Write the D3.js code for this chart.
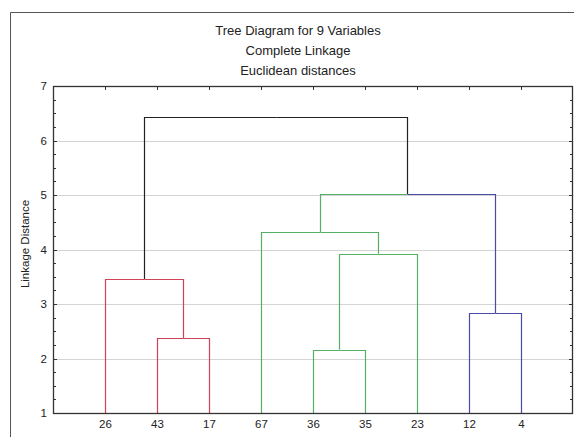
<!DOCTYPE html>
<html><head><meta charset="utf-8">
<script src="https://cdn.jsdelivr.net/npm/d3@7"></script>
<style>body{margin:0;background:#fff;} svg{display:block;font-family:"Liberation Sans",Arial,sans-serif;}</style>
</head><body>
<script>
// Leaves in display order
const leaves = ["26","43","17","67","36","35","23","12","4"];
const leafCluster = ["red","red","red","green","green","green","green","blue","blue"];
// Merges: [id, left child, right child, linkage distance, cluster of node]
const merges = [
  ["A","43","17",2.37,"red"],
  ["B","26","A",3.46,"none"],
  ["C","36","35",2.16,"green"],
  ["D","C","23",3.92,"green"],
  ["E","67","D",4.32,"green"],
  ["F","12","4",2.83,"blue"],
  ["G","E","F",5.02,"none"],
  ["R","B","G",6.43,"none"]
];
const yTicks = [1,2,3,4,5,6,7];
const titles = ["Tree Diagram for 9 Variables","Complete Linkage","Euclidean distances"];
const yLabel = "Linkage Distance";

const colorMap = {red:"#cc4455", green:"#55b066", blue:"#4a4aa8", none:"#222"};

const W=574,H=437;
const m={l:53,r:1,t:86,b:24};
const svg=d3.select("body").append("svg").attr("width",W).attr("height",H);

// outer frame
svg.append("path").attr("d",`M10.5,${H+2}V12.5H${W+2}`).attr("fill","none").attr("stroke","#555").attr("stroke-width",1);

const x=d3.scalePoint().domain(leaves).range([m.l,W-m.r]).padding(1);
const y=d3.scaleLinear().domain([1,7]).range([H-m.b,m.t]);

// gridlines
svg.append("g").selectAll("line").data(yTicks.filter(d=>d>1&&d<7)).join("line")
  .attr("x1",m.l).attr("x2",W-m.r).attr("y1",d=>Math.round(y(d))+0.5).attr("y2",d=>Math.round(y(d))+0.5)
  .attr("stroke","#d4d4d4");

// build nodes
const nodes={};
leaves.forEach((l,i)=>nodes[l]={x:x(l),h:1,c:leafCluster[i]});
merges.forEach(([id,a,b,h,c])=>{
  nodes[id]={x:(nodes[a].x+nodes[b].x)/2,h:h,c:c};
  nodes[a].p=id; nodes[b].p=id;
});
const links=Object.keys(nodes).filter(k=>nodes[k].p).map(k=>({n:nodes[k],p:nodes[nodes[k].p]}));
svg.append("g").selectAll("path").data(links).join("path")
  .attr("d",d=>`M${Math.round(d.n.x)+0.5},${y(d.n.h)}V${Math.round(y(d.p.h))+0.5}H${Math.round(d.p.x)+0.5}`)
  .attr("fill","none").attr("stroke",d=>colorMap[d.n.c]).attr("stroke-width",1.2);

// axes
const left=svg.append("g").attr("transform",`translate(${m.l},0)`)
  .call(d3.axisLeft(y).tickValues(yTicks).tickSize(0).tickPadding(6).tickFormat(d3.format("d")));
left.select(".domain").remove();
left.selectAll("text").attr("font-size",11.5).attr("fill","#222").attr("font-family","Liberation Sans,Arial");

const bottom=svg.append("g").attr("transform",`translate(0,${H-m.b})`)
  .call(d3.axisBottom(x).tickSize(0).tickPadding(7));
bottom.select(".domain").remove();
bottom.selectAll("text").attr("font-size",11.5).attr("fill","#222").attr("font-family","Liberation Sans,Arial");

// ticks (inward)
const minor=d3.range(1,7.001,0.25);
const tg=svg.append("g").attr("stroke","#333");
tg.selectAll(".lt").data(minor).join("line")
  .attr("x1",m.l).attr("x2",d=>m.l+(Number.isInteger(d)?4:3))
  .attr("y1",d=>Math.round(y(d))+0.5).attr("y2",d=>Math.round(y(d))+0.5);
tg.selectAll(".rt").data(minor).join("line")
  .attr("x1",W-m.r).attr("x2",d=>W-m.r-(Number.isInteger(d)?4:3))
  .attr("y1",d=>Math.round(y(d))+0.5).attr("y2",d=>Math.round(y(d))+0.5);
tg.selectAll(".tt").data(leaves).join("line")
  .attr("x1",d=>Math.round(x(d))+0.5).attr("x2",d=>Math.round(x(d))+0.5)
  .attr("y1",m.t).attr("y2",m.t+4);

// frame of plot
svg.append("rect").attr("x",m.l+0.5).attr("y",m.t+0.5).attr("width",W-m.r-m.l-1).attr("height",H-m.b-m.t)
  .attr("fill","none").attr("stroke","#333").attr("stroke-width",1.3);

// titles
svg.append("g").selectAll("text").data(titles).join("text")
  .attr("x",298).attr("y",(d,i)=>35+i*20).attr("text-anchor","middle")
  .attr("font-size",13).attr("fill","#222").text(d=>d);

svg.append("text").attr("transform",`translate(29,244) rotate(-90)`).attr("text-anchor","middle")
  .attr("font-size",11.5).attr("fill","#222").text(yLabel);
</script>
</body></html>
